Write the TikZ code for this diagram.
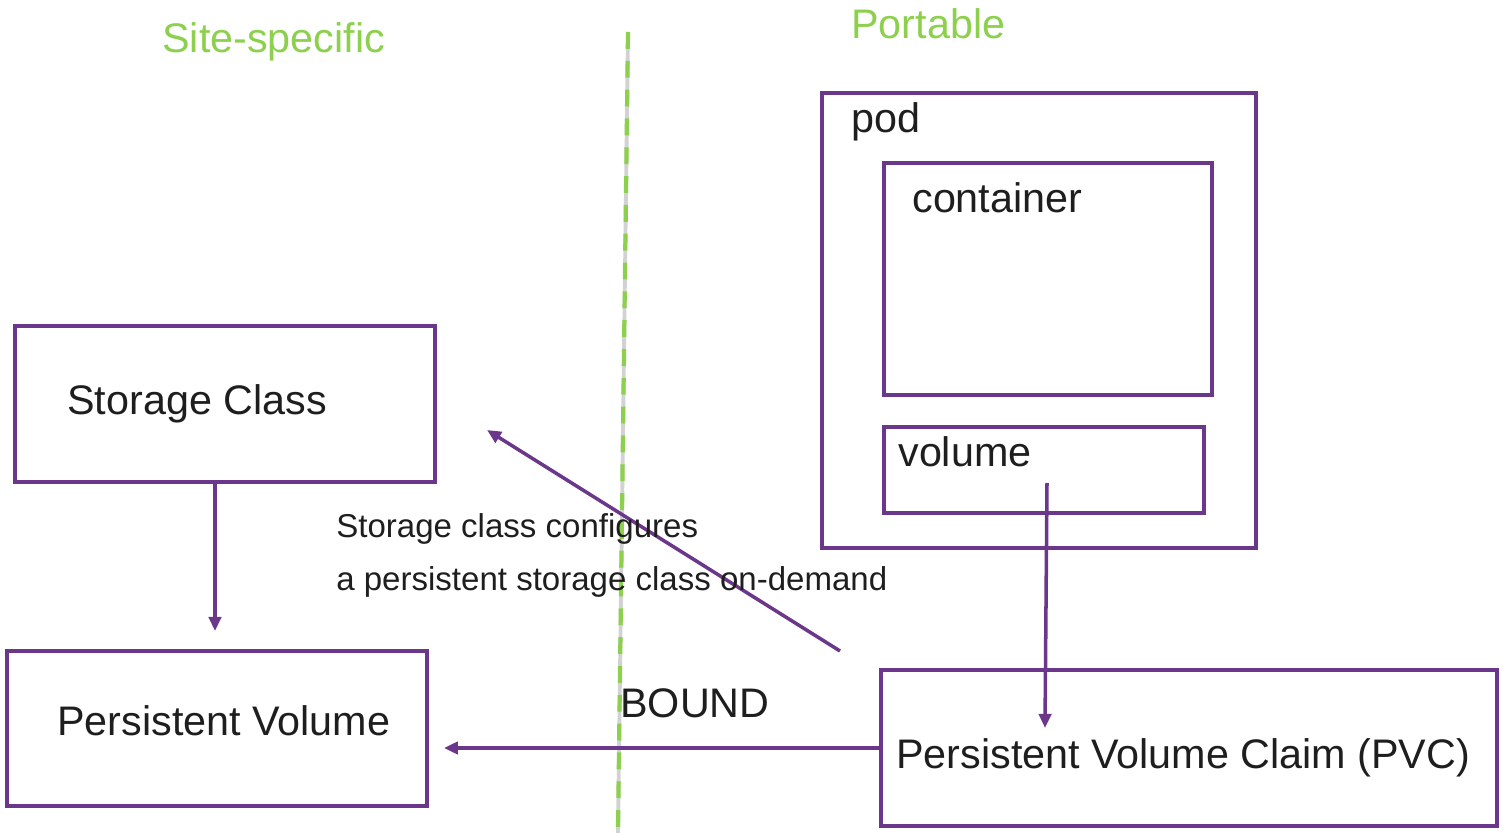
\documentclass[tikz,border=0pt]{standalone}
\usepackage{fontspec}
\setmainfont{Liberation Sans}
\usepackage{xcolor}
\usetikzlibrary{arrows.meta, positioning, calc, fit}
\definecolor{kpurple}{HTML}{6B378A}
\definecolor{kgreen}{HTML}{8DD04E}
\definecolor{ktext}{HTML}{1E1E1E}

\begin{document}
\begin{tikzpicture}[
  x=0.2mm, y=-0.2mm,
  box/.style={draw=kpurple, line width=2.2pt, inner sep=0pt, rectangle},
  bigtxt/.style={font=\fontsize{23.5}{28}\selectfont, text=ktext,
    inner sep=0pt, anchor=base west},
  smalltxt/.style={font=\fontsize{18.8}{22}\selectfont, text=ktext,
    inner sep=0pt, anchor=base west},
  side/.style={font=\fontsize{23.5}{28}\selectfont, text=kgreen,
    inner sep=0pt, anchor=base west},
  flow/.style={-{Triangle[length=8pt, width=7pt]}, draw=kpurple,
    line width=2pt},
  >=Stealth
]
  \useasboundingbox (0,0) rectangle (1503,833);

  % Divider
  \coordinate (divtop) at (628,32);
  \coordinate (divbot) at (618,833);
  \draw[gray!35, line width=2.2pt] (divtop) -- (divbot);
  \draw[kgreen, line width=2.4pt, dash pattern=on 9.6pt off 6.8pt]
    (divtop) -- (divbot);

  % Headings
  \node[side] (site) at (162,53) {Site-specific};
  \node[side] (port) at (851,39) {Portable};

  % Site-specific boxes
  \node[box, fit={(15,326) (435,482)}] (sc) {};
  \node[bigtxt] (sctxt) at (67,415) {Storage Class};
  \node[box, fit={(7,651) (427,806)}] (pv) {};
  \node[bigtxt] (pvtxt) at (57,735) {Persistent Volume};

  % Pod
  \node[box, fit={(822,93) (1256,548)}] (pod) {};
  \node[bigtxt] (podtxt) at (851,133) {pod};
  \node[box, fit={(884,163) (1212,395)}] (ctr) {};
  \node[bigtxt] (ctrtxt) at (912,213) {container};
  \node[box, fit={(884,427) (1204,513)}] (vol) {};
  \node[bigtxt] (voltxt) at (898,467) {volume};

  % Claim
  \node[box, fit={(881,670) (1497,826)}] (pvc) {};
  \node[bigtxt] (pvctxt) at (896,768) {Persistent Volume Claim (PVC)};

  % Connections
  \coordinate (scout) at (215,482);
  \coordinate (pvin) at (215,631);
  \draw[flow] (scout) -- (pvin);

  \coordinate (cfgfrom) at (840,651);
  \coordinate (cfgto) at (487,430);
  \draw[flow] (cfgfrom) -- (cfgto);
  \node[smalltxt] (cfg1) at (336,537) {Storage class configures};
  \node[smalltxt] (cfg2) at (336,590) {a persistent storage class on-demand};

  \coordinate (volout) at (1047,483);
  \coordinate (pvcin) at (1045,728);
  \draw[flow] (volout) -- (pvcin);

  \draw[flow, shorten >=15*0.2mm] (pvc.west) -- (pvc.west -| pv.east);
  \node[bigtxt] (bound) at (620,717) {BOUND};
\end{tikzpicture}
\end{document}
